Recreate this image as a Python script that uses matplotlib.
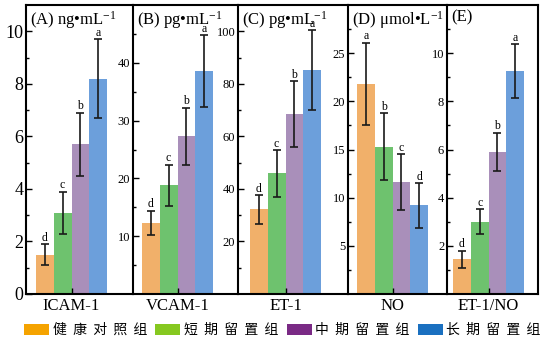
import numpy as np
import matplotlib.pyplot as plt
from matplotlib.patches import Patch
from matplotlib.font_manager import FontProperties

plt.rcParams['font.family'] = ['Liberation Serif', 'DejaVu Serif']
plt.rcParams['mathtext.fontset'] = 'custom'
plt.rcParams['mathtext.rm'] = 'Liberation Serif'
plt.rcParams['mathtext.it'] = 'Liberation Serif:italic'

# groups and markers
groups = ['健康对照组', '短期留置组', '中期留置组', '长期留置组']
markers = ['ICAM-1', 'VCAM-1', 'ET-1', 'NO', 'ET-1/NO']
units = [r'(A) ng•mL$^{-1}$', r'(B) pg•mL$^{-1}$', r'(C) pg•mL$^{-1}$',
         r'(D) μmol•L$^{-1}$', '(E)']

icam = [1.5, 3.1, 5.7, 8.2]
icam_sd = [0.4, 0.8, 1.2, 1.5]
vcam = [12.3, 18.8, 27.3, 38.6]
vcam_sd = [2.1, 3.6, 4.9, 6.2]
et1 = [32.2, 45.9, 68.4, 85.1]
et1_sd = [5.5, 8.8, 12.6, 15.2]
no = [21.8, 15.3, 11.6, 9.2]
no_sd = [4.3, 3.45, 2.9, 2.3]
ratio = [1.45, 3.0, 5.9, 9.25]
ratio_sd = [0.35, 0.52, 0.8, 1.13]

letters_up = ['d', 'c', 'b', 'a']
letters_down = ['a', 'b', 'c', 'd']

means = [icam, vcam, et1, no, ratio]
sds = [icam_sd, vcam_sd, et1_sd, no_sd, ratio_sd]
sigs = [letters_up, letters_up, letters_up, letters_down, letters_up]

# panel layout (pixels) and axis settings
W, H = 543, 342
edges = [26, 133, 238, 348, 447, 538]
gap_left = [10, 9, 12, 9, 6]
bar_px = 17.75
y_bottom, y_top = 294, 5
ymax = [11, 50, 110, 30, 12]
step = [2, 10, 20, 5, 2]
first_tick = [0, 10, 20, 5, 2]
last_tick = [10, 40, 100, 25, 10]
ylab_size = [13, 9, 9, 9, 9]

bar_colors = ['#F1B06A', '#6EC26E', '#A98FBA', '#6C9FDB']
legend_colors = ['#F5A300', '#86C820', '#7A2A85', '#1A70C0']

fig = plt.figure(figsize=(W / 100, H / 100), dpi=100)

x = np.arange(4)
for i in range(5):
    x0, x1 = edges[i], edges[i + 1]
    ax = fig.add_axes([x0 / W, (H - y_bottom) / H, (x1 - x0) / W,
                       (y_bottom - y_top) / H])
    ax.patch.set_visible(False)
    ax.bar(x, means[i], width=1.0, color=bar_colors,
           yerr=sds[i], error_kw=dict(ecolor='#1a1a1a', elinewidth=1.2,
                                      capsize=2.8, capthick=1.2))
    for xi, m, s, t in zip(x, means[i], sds[i], sigs[i]):
        ax.annotate(t, (xi, m + s), xytext=(0, 0.3), textcoords='offset points',
                    ha='center', va='bottom', fontsize=8.5)

    lo = -0.5 - gap_left[i] / bar_px
    ax.set_xlim(lo, lo + (x1 - x0) / bar_px)
    ax.set_ylim(0, ymax[i])

    ax.set_yticks(np.arange(first_tick[i], last_tick[i] + 0.01, step[i]))
    ax.set_yticks(np.arange(step[i] / 2, ymax[i], step[i]), minor=True)
    ax.tick_params(axis='y', which='major', direction='in', length=4,
                   width=1, labelsize=ylab_size[i], pad=2)
    ax.tick_params(axis='y', which='minor', direction='in', length=2.5, width=1)

    ax.set_xticks([1.5])
    ax.set_xticklabels([markers[i]])
    ax.tick_params(axis='x', direction='in', length=4, width=1,
                   labelsize=12, pad=3)

    for side in ['left', 'bottom', 'top', 'right']:
        ax.spines[side].set_linewidth(1.5)
    ax.spines['right'].set_visible(i == 4)

    ax.annotate(units[i], (0, 1), xycoords='axes fraction', xytext=(3, -3),
                textcoords='offset points', ha='left', va='top', fontsize=12)

handles = [Patch(facecolor=c) for c in legend_colors]
labels = ['  '.join(g) for g in groups]
fig.legend(handles, labels, loc='center', bbox_to_anchor=(282.5 / W, 1 - 330 / H),
           ncol=4, frameon=False,
           prop=FontProperties(family=['Noto Sans CJK SC'], size=10),
           handlelength=1.8, handleheight=0.85, handletextpad=0.25,
           columnspacing=0.6, borderpad=0, borderaxespad=0)

fig.savefig('out.png', dpi=100)
